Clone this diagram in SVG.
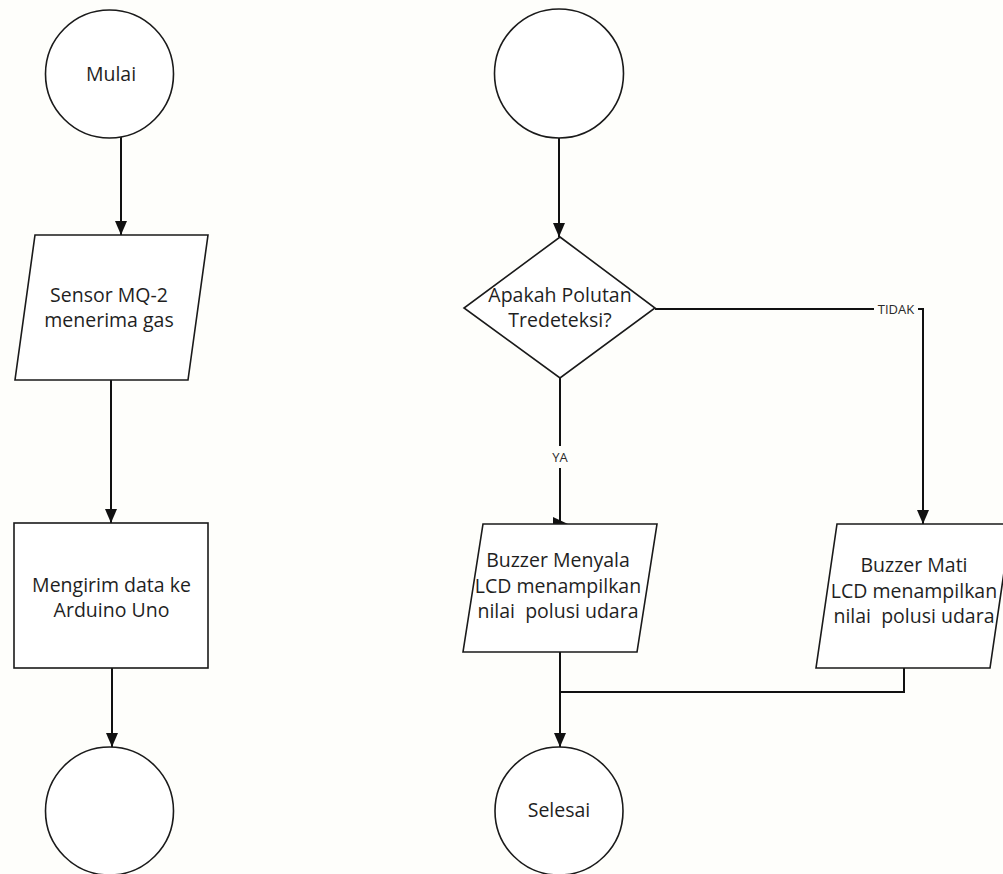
<svg xmlns="http://www.w3.org/2000/svg" width="1003" height="874" viewBox="0 0 1003 874">
<defs>
<marker id="ah" viewBox="0 0 14 12" refX="14" refY="6" markerWidth="14" markerHeight="12" markerUnits="userSpaceOnUse" orient="auto">
<path d="M0,0 L14,6 L0,12 z" fill="#111"/>
</marker>
<style>
.shape{fill:#fff;stroke:#1a1a1a;stroke-width:1.6}
.t{font-family:"Open Sans","Liberation Sans",sans-serif;font-size:19.5px;fill:#1f1f1f;text-anchor:middle;white-space:pre}
.lbl{font-family:"Open Sans","Liberation Sans",sans-serif;font-size:13px;fill:#2a2a2a;text-anchor:middle}
.c{fill:none;stroke:#111;stroke-width:2}
</style>
</defs>
<rect width="1003" height="874" fill="#fefefb"/>
<g id="connectors">
<path class="c" d="M121,137 V235" marker-end="url(#ah)"/>
<path class="c" d="M111,380 V523" marker-end="url(#ah)"/>
<path class="c" d="M112,668 V747" marker-end="url(#ah)"/>
<path class="c" d="M559,138 V237" marker-end="url(#ah)"/>
<path class="c" d="M560,378 V446"/>
<path class="c" d="M560,468 V524"/>
<polygon points="553,517 568,524 553,531" fill="#111"/>
<text class="lbl" x="560" y="462">YA</text>
<path class="c" d="M655,309 H874"/>
<text class="lbl" x="896" y="314">TIDAK</text>
<path class="c" d="M918,309 H923 V524" marker-end="url(#ah)"/>
<path class="c" d="M560,652 V747" marker-end="url(#ah)"/>
<path class="c" d="M904,668 V692 H560"/>
</g>
<g id="mulai">
<circle class="shape" cx="109.5" cy="74" r="64"/>
<text class="t" x="111" y="81">Mulai</text>
</g>
<g id="sensor">
<polygon class="shape" points="35,235 208,235 188,380 15,380"/>
<text class="t" x="109" y="302">Sensor MQ-2</text>
<text class="t" x="109" y="327">menerima gas</text>
</g>
<g id="kirim">
<rect class="shape" x="14" y="523" width="194" height="145"/>
<text class="t" x="111.5" y="592">Mengirim data ke</text>
<text class="t" x="111.5" y="617">Arduino Uno</text>
</g>
<g id="connector-a">
<circle class="shape" cx="109.5" cy="811" r="64"/>
</g>
<g id="connector-b">
<circle class="shape" cx="559" cy="73.5" r="64.5"/>
</g>
<g id="decision">
<polygon class="shape" points="560,237 655,308 560,378 464,308"/>
<text class="t" x="560" y="302">Apakah Polutan</text>
<text class="t" x="560" y="327">Tredeteksi?</text>
</g>
<g id="buzzer-on">
<polygon class="shape" points="483,524 657,524 637,652 463,652"/>
<text class="t" x="558" y="567">Buzzer Menyala</text>
<text class="t" x="558" y="593">LCD menampilkan</text>
<text class="t" x="558" y="618" xml:space="preserve">nilai  polusi udara</text>
</g>
<g id="buzzer-off">
<polygon class="shape" points="837,524 1011,524 990,668 816,668"/>
<text class="t" x="914" y="572">Buzzer Mati</text>
<text class="t" x="914" y="598">LCD menampilkan</text>
<text class="t" x="914" y="623" xml:space="preserve">nilai  polusi udara</text>
</g>
<g id="selesai">
<circle class="shape" cx="559" cy="811" r="64"/>
<text class="t" x="559" y="817">Selesai</text>
</g>
</svg>
